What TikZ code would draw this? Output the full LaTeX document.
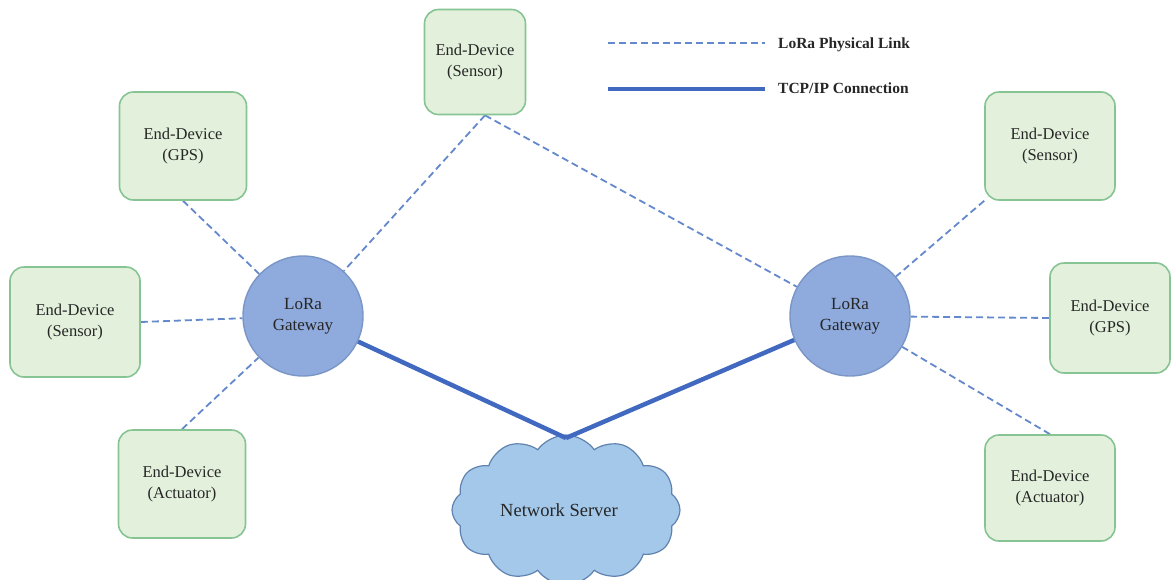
\documentclass[tikz,border=0pt]{standalone}
\usepackage{fontspec}
\setmainfont{Liberation Serif}
\usetikzlibrary{shapes.symbols,backgrounds}
\definecolor{boxfill}{HTML}{E3F1DC}
\definecolor{boxdraw}{HTML}{86C493}
\definecolor{gwfill}{HTML}{8FAADC}
\definecolor{gwdraw}{HTML}{7A96C6}
\definecolor{cloudfill}{HTML}{A4C8EA}
\definecolor{clouddraw}{HTML}{5F82AE}
\definecolor{loracol}{HTML}{6488CC}
\definecolor{tcpcol}{HTML}{4169C0}
\definecolor{txt}{HTML}{262626}
\tikzset{
  devbox/.style={draw=boxdraw, fill=boxfill, line width=1.6pt, rounded corners=14pt,
    align=center, font=\fontsize{16.5}{21}\selectfont, text=txt, inner sep=0pt},
  gateway/.style={circle, draw=gwdraw, fill=gwfill, line width=1.4pt, minimum size=120pt,
    align=center, font=\fontsize{17}{21}\selectfont, text=txt, inner sep=0pt},
  lora/.style={draw=loracol, line width=1.8pt, dash pattern=on 7pt off 4pt},
  tcp/.style={draw=tcpcol, line width=4.5pt},
  legtext/.style={font=\bfseries\fontsize{15.5}{18}\selectfont, text=txt, anchor=west, inner sep=0pt}
}
\begin{document}
\begin{tikzpicture}[x=1pt,y=-1pt]
\useasboundingbox (0,0) rectangle (1171,579);
% end devices
\node[devbox, minimum width=101pt, minimum height=105pt] (tS) at (475,62) {End-Device\\(Sensor)};
\node[devbox, minimum width=127pt, minimum height=108pt] (lG) at (183,146) {End-Device\\(GPS)};
\node[devbox, minimum width=130pt, minimum height=110pt] (lS) at (75,322) {End-Device\\(Sensor)};
\node[devbox, minimum width=127pt, minimum height=108pt] (lA) at (182,484) {End-Device\\(Actuator)};
\node[devbox, minimum width=130pt, minimum height=108pt] (rS) at (1050,146) {End-Device\\(Sensor)};
\node[devbox, minimum width=120pt, minimum height=110pt] (rG) at (1110,318) {End-Device\\(GPS)};
\node[devbox, minimum width=130pt, minimum height=106pt] (rA) at (1050,488) {End-Device\\(Actuator)};
% gateways
\node[gateway] (gL) at (303,316) {LoRa\\Gateway};
\node[gateway] (gR) at (850,316) {LoRa\\Gateway};
% cloud
\node[cloud, cloud puffs=12, cloud puff arc=110, aspect=1.45, draw=clouddraw, fill=cloudfill,
  line width=1.2pt, minimum width=228pt, minimum height=150pt, inner sep=0pt,
  font=\fontsize{18.5}{22}\selectfont, text=txt] (ns) at (566,510) {Network Server\hspace*{14pt}};
\coordinate (nstop) at (566,438);
% legend
\coordinate (l1a) at (608,43);
\coordinate (l1b) at (765,43);
\coordinate (l2a) at (608,89);
\coordinate (l2b) at (765,89);
\draw[lora] (l1a) -- (l1b);
\draw[tcp] (l2a) -- (l2b);
\node[legtext] (lt1) at (778,45) {LoRa Physical Link};
\node[legtext] (lt2) at (778,88) {TCP/IP Connection};
% connectors
\begin{pgfonlayer}{background}
\draw[lora] ([xshift=10pt]tS.south) -- (gL);
\draw[lora] ([xshift=10pt]tS.south) -- (gR);
\draw[lora] (lG.south) -- (gL);
\draw[lora] (lS.east) -- (gL);
\draw[lora] (lA.north) -- (gL);
\draw[lora] (rS.south west) -- (gR);
\draw[lora] (rG.west) -- (gR);
\draw[lora] (rA.north) -- (gR);
\end{pgfonlayer}
\draw[tcp] (gL) -- (nstop);
\draw[tcp] (gR) -- (nstop);
\end{tikzpicture}
\end{document}
